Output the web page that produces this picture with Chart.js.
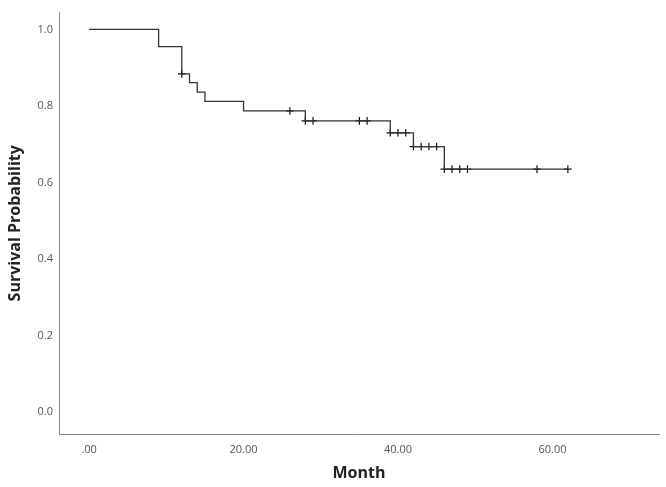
<!DOCTYPE html>
<html>
<head>
<meta charset="utf-8">
<script src="https://cdn.jsdelivr.net/npm/chart.js@4.4.1/dist/chart.umd.min.js"></script>
<style>
html,body{margin:0;padding:0;background:#fff;}
canvas{display:block;}
</style>
</head>
<body>
<canvas id="c" width="666" height="487"></canvas>
<script>
// Kaplan-Meier step data (event times and survival after each event)
const eventTimes = [0, 9, 12, 13, 14, 15, 20, 28, 39, 42, 46, 62];
const survival   = [1.0, 0.955, 0.884, 0.861, 0.836, 0.812, 0.787, 0.761, 0.730, 0.694, 0.635, 0.635];
// Censored observations (months)
const censorTimes = [12, 26, 28, 29, 35, 36, 39, 40, 41, 42, 43, 44, 45, 46, 47, 48, 49, 58, 62];
// Tick values
const xTicks = [0, 20, 40, 60];
const yTicks = [0.0, 0.2, 0.4, 0.6, 0.8, 1.0];

function survAt(t){
  let s = survival[0];
  for (let i = 0; i < eventTimes.length; i++) { if (eventTimes[i] <= t) s = survival[i]; }
  return s;
}
const curve = eventTimes.map((t,i)=>({x:t, y:survival[i]}));
const censors = censorTimes.map(t=>({x:t, y:survAt(t)}));

const FONT = "'Open Sans', 'Noto Sans', sans-serif";

new Chart(document.getElementById('c'), {
  type: 'scatter',
  data: {
    datasets: [
      { data: curve, showLine: true, stepped: true, borderColor: '#333', borderWidth: 1.3,
        pointRadius: 0, fill: false },
      { data: censors, showLine: false, pointStyle: 'cross', pointRadius: 3.8,
        borderColor: '#111', borderWidth: 1.2, backgroundColor: '#111' }
    ]
  },
  options: {
    responsive: false,
    animation: false,
    layout: { padding: { top: 10, right: 7, left: 0, bottom: 0 } },
    plugins: { legend: { display: false }, tooltip: { enabled: false } },
    scales: {
      x: {
        type: 'linear', min: -3.9, max: 73.8,
        grid: { display: false, drawTicks: false },
        border: { display: true, color: '#8a8a8a', width: 1 },
        afterBuildTicks: (axis) => { axis.ticks = xTicks.map(v=>({value:v})); },
        ticks: { includeBounds: false, padding: 9, color: '#555', font: { family: FONT, size: 11 },
          callback: (v) => v === 0 ? '.00' : Number(v).toFixed(2), maxRotation: 0 },
        title: { display: true, text: 'Month', color: '#222',
          font: { family: FONT, size: 16, weight: 'bold' }, padding: { top: 0, bottom: 4 } },
        afterFit: (axis) => { axis.height = 53; }
      },
      y: {
        type: 'linear', min: -0.057, max: 1.044,
        grid: { display: false, drawTicks: false },
        border: { display: true, color: '#8a8a8a', width: 1 },
        afterBuildTicks: (axis) => { axis.ticks = yTicks.map(v=>({value:v})); },
        ticks: { includeBounds: false, padding: 6, color: '#555', font: { family: FONT, size: 11 },
          callback: (v) => Number(v).toFixed(1) },
        title: { display: true, text: 'Survival Probability', color: '#222',
          font: { family: FONT, size: 16, weight: 'bold' }, padding: { top: 6, bottom: 0 } },
        afterFit: (axis) => { axis.width = 59; }
      }
    }
  }
});
</script>
</body>
</html>
